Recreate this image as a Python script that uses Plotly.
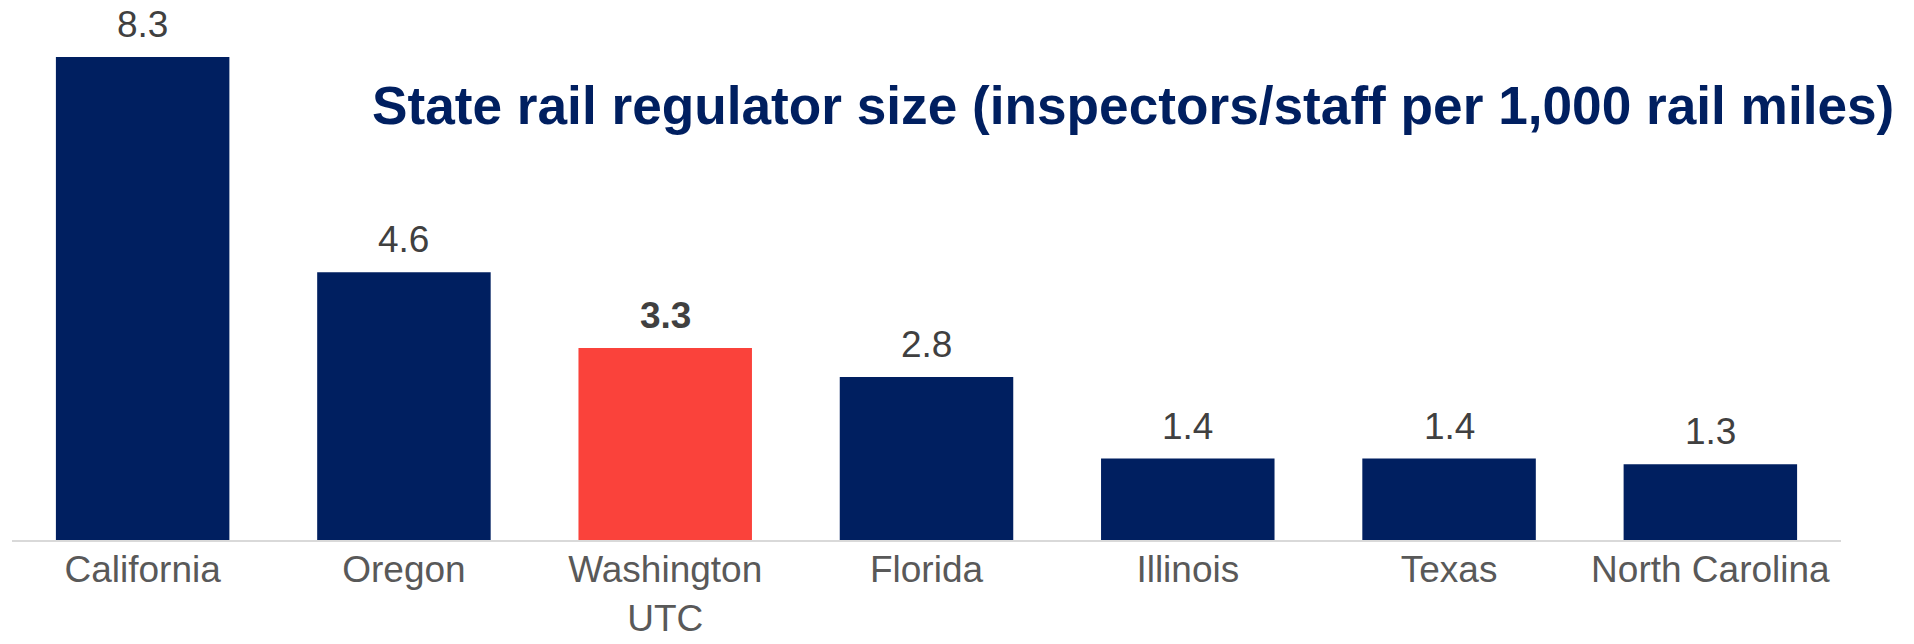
import plotly.graph_objects as go

categories = ["California", "Oregon", "Washington<br>UTC", "Florida", "Illinois", "Texas", "North Carolina"]
values = [8.3, 4.6, 3.3, 2.8, 1.4, 1.4, 1.3]
highlight = [False, False, True, False, False, False, False]
title_text = "State rail regulator size (inspectors/staff per 1,000 rail miles)"

NAVY = "#001F60"
RED = "#FA423B"
FONT = "Liberation Sans, Arial, sans-serif"

# The page body has an 8px default margin, so the figure is 16px smaller
W, H = 1898, 628

colors = [RED if h else NAVY for h in highlight]

fig = go.Figure()
fig.add_trace(go.Bar(
    x=categories,
    y=values,
    marker=dict(color=colors, line=dict(width=0)),
    hoverinfo="skip",
))

for c, v, h in zip(categories, values, highlight):
    fig.add_annotation(
        x=c, y=v, xref="x", yref="y",
        text=f"{v:.1f}",
        showarrow=False,
        yanchor="bottom",
        yshift=11,
        borderpad=0,
        font=dict(family=FONT, size=37, color="#404040", weight="bold" if h else "normal"),
    )

fig.update_layout(
    width=W,
    height=H,
    margin=dict(l=4, r=65, t=10, b=96, autoexpand=False),
    paper_bgcolor="white",
    plot_bgcolor="white",
    bargap=0.336,
    showlegend=False,
    title=dict(
        text=title_text,
        xref="container", yref="container",
        x=364 / W, xanchor="left",
        y=1 - 79 / H, yanchor="top",
        font=dict(family=FONT, size=53.2, color=NAVY, weight="bold"),
    ),
    xaxis=dict(
        showgrid=False,
        showline=True,
        linecolor="#D9D9D9",
        linewidth=2,
        ticks="",
        ticklabelstandoff=-4,
        tickfont=dict(family=FONT, size=37, color="#595959"),
        fixedrange=True,
        automargin=False,
    ),
    yaxis=dict(
        range=[0, 8.97],
        showgrid=False,
        showticklabels=False,
        zeroline=False,
        showline=False,
        fixedrange=True,
        automargin=False,
    ),
)

fig.write_html("out.html")
